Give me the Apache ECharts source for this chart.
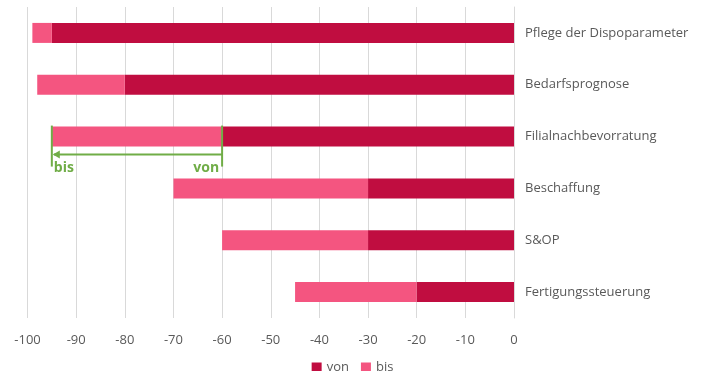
<!DOCTYPE html>
<html><head><meta charset="utf-8">
<script src="https://cdn.jsdelivr.net/npm/echarts@6/dist/echarts.min.js"></script>
<style>html,body{margin:0;padding:0;background:#fff}#c{width:705px;height:371px}</style>
</head><body><div id="c"></div>
<script>
const categories = ['Pflege der Dispoparameter','Bedarfsprognose','Filialnachbevorratung','Beschaffung','S&OP','Fertigungssteuerung'];
const vonValues = [-95,-80,-60,-30,-30,-20];
const bisValues = [-99,-98,-95,-70,-60,-45];
const xTicks = [-100,-90,-80,-70,-60,-50,-40,-30,-20,-10,0];
const annotation = {category:'Filialnachbevorratung', from:-60, to:-95, fromLabel:'von', toLabel:'bis'};

const bisExtra = bisValues.map((b,i)=>b - vonValues[i]);
const font = '"Open Sans", "Noto Sans", sans-serif';
const chart = echarts.init(document.getElementById('c'));
chart.setOption({
  animation:false,
  grid:{left:27.5,right:191,top:7,bottom:53,containLabel:false},
  legend:{top:356,left:'center',icon:'rect',itemWidth:10,itemHeight:10,itemGap:12,
    textStyle:{color:'#595959',fontSize:13,fontFamily:font},data:['von','bis']},
  xAxis:{type:'value',min:-100,max:0,interval:10,
    axisLine:{show:false},axisTick:{show:false},
    axisLabel:{color:'#595959',fontSize:13,fontFamily:font,margin:16,
      formatter:v=>xTicks.includes(v)?String(v):''},
    splitLine:{lineStyle:{color:'#d9d9d9',width:1}}},
  yAxis:{type:'category',data:categories,inverse:true,position:'right',
    axisLine:{show:true,lineStyle:{color:'#d9d9d9'}},axisTick:{show:false},
    axisLabel:{color:'#595959',fontSize:13,fontFamily:font,margin:11,align:'left'}},
  series:[
    {name:'von',type:'bar',stack:'s',data:vonValues,barWidth:20,itemStyle:{color:'#C00D40'}},
    {name:'bis',type:'bar',stack:'s',data:bisExtra,barWidth:20,itemStyle:{color:'#F45580'}}
  ]
});
const xFrom = chart.convertToPixel({xAxisIndex:0}, annotation.from);
const xTo = chart.convertToPixel({xAxisIndex:0}, annotation.to);
const yc = chart.convertToPixel({yAxisIndex:0}, annotation.category);
const green = '#70AD47';
chart.setOption({graphic:[
  {type:'line',shape:{x1:xFrom,y1:yc-11,x2:xFrom,y2:yc+30},style:{stroke:green,lineWidth:2},z:100},
  {type:'line',shape:{x1:xTo,y1:yc-11,x2:xTo,y2:yc+30},style:{stroke:green,lineWidth:2},z:100},
  {type:'line',shape:{x1:xFrom,y1:yc+18,x2:xTo+2,y2:yc+18},style:{stroke:green,lineWidth:2},z:100},
  {type:'polygon',shape:{points:[[xTo+1,yc+18],[xTo+8,yc+14],[xTo+8,yc+22]]},style:{fill:green},z:100},
  {type:'text',x:xTo+2,y:yc+24,style:{text:annotation.toLabel,fill:green,font:'bold 14px '+font,textAlign:'left',textVerticalAlign:'top'},z:100},
  {type:'text',x:xFrom-3,y:yc+24,style:{text:annotation.fromLabel,fill:green,font:'bold 14px '+font,textAlign:'right',textVerticalAlign:'top'},z:100}
]});
</script></body></html>
